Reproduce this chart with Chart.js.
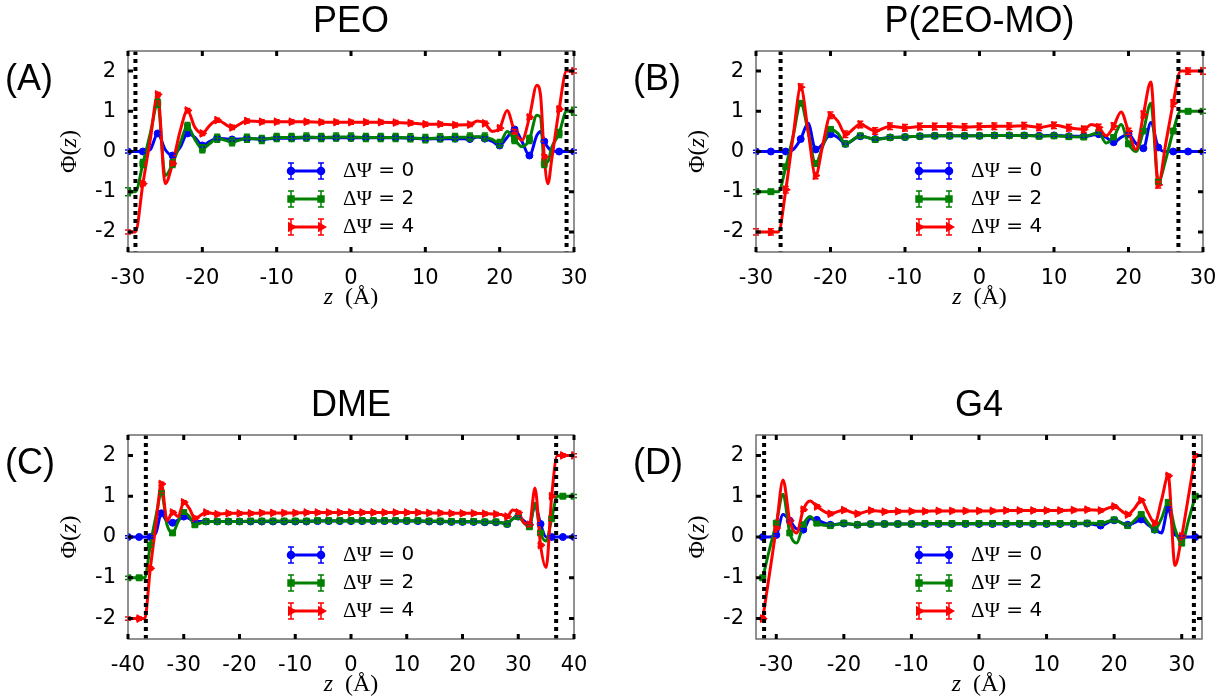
<!DOCTYPE html>
<html>
<head>
<meta charset="utf-8">
<script src="https://cdn.jsdelivr.net/npm/chart.js@4.4.1/dist/chart.umd.min.js"></script>
<style>
  body { margin: 0; background: #fff; }
  .panel { position: absolute; width: 614px; height: 350px; }
</style>
</head>
<body>
<div class="panel" style="left:0;top:0"><canvas id="cA" width="614" height="350"></canvas></div>
<div class="panel" style="left:614px;top:0"><canvas id="cB" width="614" height="350"></canvas></div>
<div class="panel" style="left:0;top:350px"><canvas id="cC" width="614" height="350"></canvas></div>
<div class="panel" style="left:614px;top:350px"><canvas id="cD" width="614" height="350"></canvas></div>
<script>
/* ================= DATA ================= */

const seriesNames = ["0", "2", "4"];   // ΔΨ values
const yTicks = [-2, -1, 0, 1, 2];

// (A) PEO
const xTicksA = [-30, -20, -10, 0, 10, 20, 30];
const wallsA = [-29, 29];
const errA = [0.04, 0.1, 0.05];
const zA = [-30,-29,-28,-27,-26,-25,-24,-23,-22,-21,-20,-19,-18,
  -16,-14,-12,-10,-8,-6,-4,-2,0,2,4,6,8,10,12,14,16,
  17,18,19,20,21,22,23,24,25,25.5,26,26.5,27,28,29,30];
const blueA = [0,0,0,0.05,0.45,0.05,-0.1,0.1,0.45,0.35,0.15,0.25,0.33,
  0.3,0.32,0.31,0.33,0.33,0.34,0.34,0.34,0.34,0.34,0.34,0.34,0.33,0.31,0.32,0.32,0.31,
  0.36,0.32,0.25,0.15,0.35,0.55,0.25,-0.1,0.4,0.5,0.25,0.1,0.02,0,0,0];
const greenA = [-1,-1,-0.3,0.45,1.2,-0.6,-0.3,0.2,0.62,0.3,0.07,0.2,0.33,
  0.24,0.33,0.3,0.35,0.35,0.36,0.35,0.36,0.36,0.35,0.35,0.35,0.34,0.32,0.34,0.35,0.36,
  0.37,0.36,0.3,0.2,0.5,0.3,0.12,0.3,0.9,0.85,-0.3,-0.25,0.1,0.45,1,1];
const redA = [-2,-2,-0.8,0.3,1.42,-0.8,-0.3,0.5,1.02,0.6,0.45,0.65,0.78,
  0.6,0.76,0.74,0.74,0.74,0.74,0.73,0.73,0.73,0.73,0.73,0.72,0.71,0.68,0.68,0.66,0.67,
  0.76,0.7,0.5,0.58,1.02,0.5,0.28,0.85,1.65,1.4,-0.13,-0.8,-0.2,1.05,2,2];

// (B) P(2EO-MO)
const xTicksB = [-30, -20, -10, 0, 10, 20, 30];
const wallsB = [-26.7, 26.7];
const errB = [0.03, 0.05, 0.08];
const zB = [-30,-28,-27,-26,-25,-24,-23,-22,-21,-20,-19,-18,
  -16,-14,-12,-10,-8,-6,-4,-2,0,2,4,6,8,10,12,14,
  15,16,17,18,19,20,21,22,23,24,25,26,27,28,30];
const blueB = [0,0,0,0,0.05,0.31,0.7,0.05,0.2,0.43,0.35,0.19,
  0.38,0.31,0.35,0.36,0.38,0.39,0.39,0.39,0.39,0.4,0.4,0.4,0.39,0.4,0.38,0.38,
  0.4,0.43,0.35,0.23,0.35,0.43,0.2,0.08,0.72,0.1,0,0,0,0,0];
const greenB = [-1,-1,-1,-0.38,0.4,1.2,0.5,-0.3,0.15,0.55,0.45,0.19,
  0.39,0.3,0.35,0.36,0.38,0.39,0.39,0.39,0.39,0.4,0.4,0.4,0.38,0.39,0.37,0.36,
  0.42,0.47,0.21,0.35,0.67,0.19,0,0.51,1.2,-0.75,-0.2,0.51,1,1,1];
const redB = [-2,-2,-2,-0.95,0.4,1.6,0.5,-0.6,0.2,0.9,0.75,0.43,
  0.67,0.51,0.63,0.59,0.62,0.62,0.62,0.61,0.62,0.63,0.63,0.64,0.6,0.65,0.59,0.55,
  0.67,0.6,0.39,0.63,0.98,0.5,0.05,0.92,1.73,-0.83,0.2,1.2,2,2,2];

// (C) DME
const xTicksC = [-40, -30, -20, -10, 0, 10, 20, 30, 40];
const wallsC = [-36.8, 36.8];
const errC = [0.03, 0.04, 0.04];
const zC = [-40,-38,-37,-36,-35,-34,-33,-32,-31,-30,-29,-28,
  -26,-24,-22,-20,-18,-16,-14,-12,-10,-8,-6,-4,-2,0,2,4,6,8,10,12,14,16,18,20,22,24,26,
  27,28,29,30,31,32,33,34,35,36,37,38,40];
const blueC = [0,0,0,0,0.1,0.58,0.38,0.35,0.42,0.5,0.45,0.38,
  0.38,0.38,0.38,0.38,0.38,0.38,0.38,0.38,0.38,0.38,
  0.39,0.39,0.39,0.39,0.39,0.39,0.39,0.39,0.39,0.39,
  0.38,0.38,0.37,0.37,0.37,0.36,0.36,
  0.35,0.32,0.45,0.5,0.4,0.3,0.79,0.32,0,0,0,0,0];
const greenC = [-1,-1,-1,-0.2,0.5,1.08,0.3,0.1,0.38,0.6,0.5,0.3,
  0.38,0.38,0.38,0.38,0.39,0.39,0.39,0.39,0.39,0.39,
  0.4,0.4,0.4,0.4,0.4,0.4,0.4,0.4,0.4,0.4,
  0.39,0.39,0.38,0.38,0.38,0.37,0.37,
  0.35,0.32,0.45,0.5,0.35,0.25,0.83,0.1,-0.1,0.45,1,1,1];
const redC = [-2,-2,-2,-0.77,0.3,1.3,0.4,0.6,0.5,0.85,0.7,0.46,
  0.6,0.56,0.58,0.58,0.58,0.59,0.59,0.59,0.59,0.6,
  0.6,0.6,0.6,0.6,0.6,0.6,0.6,0.6,0.6,0.6,
  0.59,0.59,0.58,0.58,0.58,0.57,0.56,
  0.55,0.5,0.66,0.6,0.35,0.3,1.2,-0.2,-0.75,1,2,2,2];

// (D) G4
const xTicksD = [-30, -20, -10, 0, 10, 20, 30];
const wallsD = [-31.8, 31.8];
const errD = [0.03, 0.04, 0.04];
const zD = [-32,-31,-30,-29,-28,-27,-26,-25,-24,
  -22,-20,-18,-16,-14,-12,-10,-8,-6,-4,-2,0,2,4,6,8,10,12,14,16,18,20,22,
  23,24,25,26,27,28,29,30,31,32];
const blueD = [0,0,0.05,0.55,0.4,0.2,0.18,0.45,0.42,
  0.3,0.33,0.3,0.32,0.32,0.32,0.32,0.32,0.32,0.32,0.32,0.32,0.32,0.32,0.32,0.32,0.32,0.32,0.32,0.33,0.28,0.41,0.3,
  0.35,0.43,0.3,0.18,0.1,0.7,0.05,0,0,0];
const greenD = [-1,-0.3,0.34,1.05,0.1,-0.15,0.3,0.5,0.34,
  0.28,0.34,0.3,0.32,0.32,0.32,0.32,0.33,0.33,0.33,0.33,0.33,0.33,0.33,0.33,0.33,0.33,0.33,0.33,0.34,0.33,0.42,0.28,
  0.4,0.55,0.35,0.18,0.45,0.85,0.2,-0.15,0.4,1];
const redD = [-2,-0.9,0.22,1.4,0.4,0.1,0.67,0.88,0.75,
  0.57,0.66,0.57,0.65,0.62,0.63,0.63,0.63,0.64,0.64,0.64,0.64,0.64,0.65,0.65,0.65,0.65,0.65,0.66,0.67,0.65,0.75,0.55,
  0.7,0.9,0.6,0.34,0.9,1.5,-0.7,0.02,1,2];

/* ================= STYLE ================= */

const colors = ["#0000ff", "#008000", "#ff0000"];
const markers = [
  { pointStyle: "circle", radius: 3.5, rotation: 0 },
  { pointStyle: "rect", radius: 4.2, rotation: 0 },
  { pointStyle: "triangle", radius: 4.5, rotation: 90 }
];
const SANS = "'DejaVu Sans', sans-serif";
const SERIF = "'Liberation Serif', 'DejaVu Serif', serif";
const TITLE = "'Liberation Sans', Arial, sans-serif";

const isMarker = z => z % 2 === 0;

function drawMixed(ctx, parts, cx, cy) {
  let w = 0;
  parts.forEach(([t, f]) => { ctx.font = f; w += ctx.measureText(t).width; });
  let x = cx - w / 2;
  ctx.textAlign = "left";
  ctx.textBaseline = "middle";
  parts.forEach(([t, f]) => {
    ctx.font = f;
    ctx.fillText(t, x, cy);
    x += ctx.measureText(t).width;
  });
}

function drawMarker(ctx, i, x, y) {
  const m = markers[i];
  Chart.helpers.drawPoint(ctx, { pointStyle: m.pointStyle, radius: m.radius, rotation: m.rotation, borderWidth: 1 }, x, y);
}

/* ================= DECORATION PLUGIN ================= */

function decorations(p) {
  return {
    id: "decor" + p.tag,
    afterDatasetsDraw(chart) {
      const { ctx, chartArea: a, scales: { x, y } } = chart;
      ctx.save();
      // error bars at marker points
      chart.data.datasets.forEach((ds, i) => {
        ctx.strokeStyle = colors[i];
        ctx.lineWidth = 1.5;
        ds.data.forEach(pt => {
          if (!isMarker(pt.x)) return;
          const px = x.getPixelForValue(pt.x);
          const y1 = y.getPixelForValue(pt.y - p.err[i]);
          const y2 = y.getPixelForValue(pt.y + p.err[i]);
          ctx.beginPath();
          ctx.moveTo(px, y1); ctx.lineTo(px, y2);
          ctx.moveTo(px - 3, y1); ctx.lineTo(px + 3, y1);
          ctx.moveTo(px - 3, y2); ctx.lineTo(px + 3, y2);
          ctx.stroke();
        });
      });
      // dotted electrode walls
      ctx.strokeStyle = "#000";
      ctx.lineWidth = 4;
      ctx.setLineDash([4, 4]);
      p.walls.forEach(w => {
        const px = x.getPixelForValue(w);
        ctx.beginPath();
        ctx.moveTo(px, a.top); ctx.lineTo(px, a.bottom);
        ctx.stroke();
      });
      ctx.setLineDash([]);
      // frame
      ctx.strokeStyle = "#6e6e6e";
      ctx.lineWidth = 1.5;
      ctx.strokeRect(a.left, a.top, a.right - a.left, a.bottom - a.top);
      // inward ticks on all four sides
      ctx.strokeStyle = "#000";
      ctx.lineWidth = 3;
      ctx.beginPath();
      x.ticks.forEach(t => {
        const px = x.getPixelForValue(t.value);
        ctx.moveTo(px, a.top); ctx.lineTo(px, a.top + 5);
        ctx.moveTo(px, a.bottom); ctx.lineTo(px, a.bottom - 5);
      });
      y.ticks.forEach(t => {
        const py = y.getPixelForValue(t.value);
        ctx.moveTo(a.left, py); ctx.lineTo(a.left + 5, py);
        ctx.moveTo(a.right, py); ctx.lineTo(a.right - 5, py);
      });
      ctx.stroke();
      ctx.restore();
    },
    afterDraw(chart) {
      const { ctx, chartArea: a } = chart;
      const midX = (a.left + a.right) / 2;
      const midY = (a.top + a.bottom) / 2;
      ctx.save();
      ctx.fillStyle = "#000";
      // panel title and tag
      ctx.font = "36px " + TITLE;
      ctx.textAlign = "center";
      ctx.textBaseline = "middle";
      ctx.fillText(p.title, midX, a.top - 29);
      ctx.textAlign = "left";
      ctx.fillText("(" + p.tag + ")", a.left - 123, a.top + 29);
      // axis titles
      drawMixed(ctx, [["z", "italic 24px " + SERIF], ["  (Å)", "24px " + SERIF]], midX, a.bottom + 46);
      ctx.translate(a.left - 58, midY);
      ctx.rotate(-Math.PI / 2);
      drawMixed(ctx, [["Φ(", "24px " + SERIF], ["z", "italic 24px " + SERIF], [")", "24px " + SERIF]], 0, 0);
      ctx.setTransform(1, 0, 0, 1, 0, 0);
      // legend
      seriesNames.forEach((name, i) => {
        const ly = a.top + 120 + i * 28;
        const x0 = a.left + 163, x1 = x0 + 30;
        ctx.strokeStyle = colors[i];
        ctx.fillStyle = colors[i];
        ctx.lineWidth = 3;
        ctx.beginPath(); ctx.moveTo(x0, ly); ctx.lineTo(x1, ly); ctx.stroke();
        ctx.lineWidth = 1.5;
        [x0, x1].forEach(px => {
          ctx.beginPath();
          ctx.moveTo(px, ly - 8); ctx.lineTo(px, ly + 8);
          ctx.moveTo(px - 3, ly - 8); ctx.lineTo(px + 3, ly - 8);
          ctx.moveTo(px - 3, ly + 8); ctx.lineTo(px + 3, ly + 8);
          ctx.stroke();
          drawMarker(ctx, i, px, ly);
        });
        ctx.fillStyle = "#000";
        ctx.textAlign = "left";
        ctx.textBaseline = "middle";
        ctx.font = "21px " + SERIF;
        ctx.fillText("ΔΨ", a.left + 215, ly);
        const w = ctx.measureText("ΔΨ").width;
        ctx.font = "20px " + SANS;
        ctx.fillText(" = " + name, a.left + 215 + w, ly);
      });
      ctx.restore();
    }
  };
}

/* ================= PANELS ================= */

function makePanel(p) {
  const datasets = p.series.map((vals, i) => ({
    label: "ΔΨ = " + seriesNames[i],
    data: p.z.map((z, k) => ({ x: z, y: vals[k] })),
    borderColor: colors[i],
    backgroundColor: colors[i],
    borderWidth: 3,
    cubicInterpolationMode: "monotone",
    pointStyle: markers[i].pointStyle,
    pointRotation: markers[i].rotation,
    pointRadius: c => (c.raw && isMarker(c.raw.x) ? markers[i].radius : 0),
    pointBorderWidth: 1,
    order: 3 - i
  }));

  new Chart(document.getElementById(p.id), {
    type: "line",
    data: { datasets },
    options: {
      responsive: false,
      animation: false,
      devicePixelRatio: 1,
      layout: { padding: { left: 0, top: p.top, right: p.right, bottom: 0 } },
      plugins: { legend: { display: false }, tooltip: { enabled: false } },
      scales: {
        x: {
          type: "linear",
          min: p.xMin, max: p.xMax,
          grid: { display: false },
          border: { display: false },
          afterBuildTicks: s => { s.ticks = p.xTicks.map(v => ({ value: v })); },
          afterFit: s => { s.height = p.xHeight; },
          ticks: { color: "#000", font: { family: SANS, size: 21 }, padding: 6, maxRotation: 0, autoSkip: false }
        },
        y: {
          min: -2.5, max: 2.5,
          grid: { display: false },
          border: { display: false },
          afterBuildTicks: s => { s.ticks = yTicks.map(v => ({ value: v })); },
          afterFit: s => { s.width = p.yWidth; },
          ticks: { color: "#000", font: { family: SANS, size: 21 }, padding: 4 }
        }
      }
    },
    plugins: [decorations(p)]
  });
}

makePanel({ id: "cA", tag: "A", title: "PEO", z: zA, series: [blueA, greenA, redA], err: errA, walls: wallsA,
  xMin: -30, xMax: 30, xTicks: xTicksA, top: 51, right: 40, yWidth: 128, xHeight: 98 });
makePanel({ id: "cB", tag: "B", title: "P(2EO-MO)", z: zB, series: [blueB, greenB, redB], err: errB, walls: wallsB,
  xMin: -30, xMax: 30, xTicks: xTicksB, top: 51, right: 25, yWidth: 142, xHeight: 98 });
makePanel({ id: "cC", tag: "C", title: "DME", z: zC, series: [blueC, greenC, redC], err: errC, walls: wallsC,
  xMin: -40, xMax: 40, xTicks: xTicksC, top: 85, right: 40, yWidth: 128, xHeight: 61 });
makePanel({ id: "cD", tag: "D", title: "G4", z: zD, series: [blueD, greenD, redD], err: errD, walls: wallsD,
  xMin: -33, xMax: 33, xTicks: xTicksD, top: 85, right: 26, yWidth: 142, xHeight: 61 });
</script>
</body>
</html>
